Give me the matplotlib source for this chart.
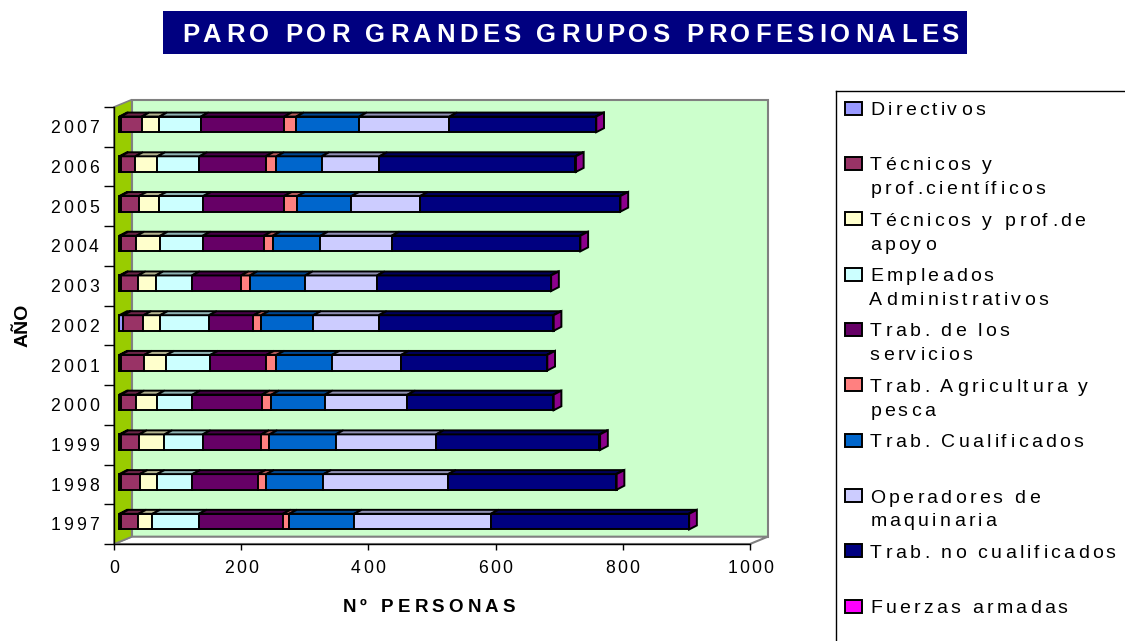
import numpy as np
import matplotlib
matplotlib.use('Agg')
import matplotlib.pyplot as plt
from matplotlib.patches import Rectangle, Polygon
from matplotlib.font_manager import FontProperties, findfont
from matplotlib.ft2font import FT2Font
from matplotlib.colors import to_rgb

# ---------------- data ----------------
years = ['1997', '1998', '1999', '2000', '2001', '2002', '2003', '2004', '2005', '2006', '2007']
directivos        = [2, 2, 2, 2, 2, 6, 2, 2, 2, 2, 2]
tec_cientificos   = [28, 30, 29, 25, 37, 32, 27, 25, 29, 23, 33]
tec_apoyo         = [22, 27, 40, 32, 35, 26, 28, 37, 31, 35, 28]
empleados_admin   = [73, 56, 60, 56, 69, 77, 57, 67, 70, 66, 65]
trab_servicios    = [132, 103, 92, 109, 88, 70, 77, 96, 127, 104, 131]
trab_agricultura  = [10, 13, 13, 15, 16, 12, 14, 14, 21, 17, 19]
trab_cualificados = [102, 90, 104, 84, 87, 82, 87, 75, 85, 71, 99]
operadores        = [215, 196, 158, 130, 109, 103, 113, 112, 108, 91, 142]
no_cualificados   = [311, 264, 257, 229, 229, 274, 273, 296, 314, 308, 230]
fuerzas_armadas   = [1, 1, 1, 1, 1, 1, 1, 1, 1, 1, 1]

series_names = ['Directivos', 'Técnicos y\nprof.científicos', 'Técnicos y prof.de\napoyo',
                'Empleados\nAdministrativos', 'Trab. de los\nservicios', 'Trab. Agricultura y\npesca',
                'Trab. Cualificados', 'Operadores de\nmaquinaria', 'Trab. no cualificados',
                'Fuerzas armadas']
series_values = [directivos, tec_cientificos, tec_apoyo, empleados_admin, trab_servicios,
                 trab_agricultura, trab_cualificados, operadores, no_cualificados, fuerzas_armadas]
series_colors = ['#9999FF', '#993366', '#FFFFCC', '#CCFFFF', '#660066', '#FF8080',
                 '#0066CC', '#CCCCFF', '#000080', '#FF00FF']
x_ticks = [0, 200, 400, 600, 800, 1000]
title = 'PARO POR GRANDES GRUPOS PROFESIONALES'
xlabel = 'Nº PERSONAS'
ylabel = 'AÑO'

# ---------------- figure ----------------
W, H, DPI = 1125, 641, 100
fig = plt.figure(figsize=(W / DPI, H / DPI), dpi=DPI)
fig.patch.set_facecolor('white')

FONT = 'Liberation Sans'


def spaced(x, y, s, fp, extra, ha='left', color='black', zorder=5):
    """Draw letter-spaced text; x, y in display pixels (y from bottom, baseline)."""
    font = FT2Font(findfont(fp))
    font.set_size(fp.get_size_in_points(), DPI)
    glyphs = [font.load_char(ord(c)) for c in s]
    adv = [g.linearHoriAdvance / 65536 for g in glyphs]
    bx = [g.horiBearingX / 64 for g in glyphs]
    total = sum(adv) + extra * (len(s) - 1)
    if ha == 'right':
        x0 = x - total
    elif ha == 'center':
        x0 = x - total / 2
    else:
        x0 = x
    cx = x0
    for c, a, b in zip(s, adv, bx):
        if c != ' ':
            fig.text((cx + b) / W, y / H, c, fontproperties=fp, color=color,
                     ha='left', va='baseline', zorder=zorder)
        cx += a + extra


# axes = front plane of the 3-D box
ax_l, ax_r, ax_t, ax_b = 114, 750, 107, 544
ax = fig.add_axes([ax_l / W, 1 - ax_b / H, (ax_r - ax_l) / W, (ax_b - ax_t) / H])
n = len(years)
ax.set_xlim(0, 1000)
ax.set_ylim(-0.5, n - 0.5)
ax.patch.set_visible(False)
ax.spines['top'].set_visible(False)
ax.spines['right'].set_visible(False)
for s in ['left', 'bottom']:
    ax.spines[s].set_color('black')
    ax.spines[s].set_linewidth(1.0)
    ax.spines[s].set_zorder(4)

ux = (ax_r - ax_l) / 1000.0          # px per data unit (x)
uy = (ax_b - ax_t) / n               # px per category (y)

# wall depth
wdx, wdy = 17.7 / ux, 7.3 / uy
# bar front offset and bar depth
fdx, fdy = 5.3 / ux, 2.5 / uy
bdx, bdy = 7.7 / ux, 4.0 / uy
bar_h = 15.6 / uy

grey = '#808080'
# back wall
ax.add_patch(Rectangle((wdx, -0.5 + wdy), 1000, n, facecolor='#CCFFCC', edgecolor=grey,
                       linewidth=1.5, clip_on=False, zorder=0))
# floor
ax.add_patch(Polygon([(0, -0.5), (1000, -0.5), (1000 + wdx, -0.5 + wdy), (wdx, -0.5 + wdy)],
                     closed=True, facecolor='white', edgecolor=grey, linewidth=1.5,
                     clip_on=False, zorder=0.5))
# side wall
ax.add_patch(Polygon([(0, -0.5), (0, n - 0.5), (wdx, n - 0.5 + wdy), (wdx, -0.5 + wdy)],
                     closed=True, facecolor='#99CC00', edgecolor=grey, linewidth=1.2,
                     clip_on=False, zorder=1))


def shade(c, f):
    return tuple(np.array(to_rgb(c)) * f)


lw = 1.4
ypos = np.arange(n) + fdy
left = np.zeros(n)
for vals, col in zip(series_values, series_colors):
    vals = np.array(vals, dtype=float)
    ax.barh(ypos, vals, left=left + fdx, height=bar_h, color=col, edgecolor='black',
            linewidth=lw, zorder=3, clip_on=False)
    for i in range(n):
        l = left[i] + fdx
        r = l + vals[i]
        top = ypos[i] + bar_h / 2
        ax.add_patch(Polygon([(l, top), (r, top), (r + bdx, top + bdy), (l + bdx, top + bdy)],
                             closed=True, facecolor=shade(col, 0.7), edgecolor='black',
                             linewidth=lw, joinstyle='miter', zorder=3.1, clip_on=False))
    left = left + vals

# side face of the stack's last segment
last_col = series_colors[-1]
for i in range(n):
    r = left[i] + fdx
    top = ypos[i] + bar_h / 2
    bot = ypos[i] - bar_h / 2
    ax.add_patch(Polygon([(r, bot), (r, top), (r + bdx, top + bdy), (r + bdx, bot + bdy)],
                         closed=True, facecolor=shade(last_col, 0.55), edgecolor='black',
                         linewidth=lw, joinstyle='miter', zorder=3.2, clip_on=False))

# ticks
ax.set_xticks(x_ticks)
ax.set_yticks(np.arange(n + 1) - 0.5)
ax.tick_params(axis='x', direction='out', length=4.3, width=1, color='black', labelbottom=False)
ax.tick_params(axis='y', direction='out', length=7.2, width=1, color='black', labelleft=False)

tick_fp = FontProperties(family=FONT, size=12.7)
for i, yr in enumerate(years):
    _, yd = ax.transData.transform((0, i))
    spaced(98.3, yd - 6.3, yr, tick_fp, 3.2, ha='right')
for v in x_ticks:
    xd, _ = ax.transData.transform((v, -0.5))
    spaced(xd - 1, H - 573, str(v), tick_fp, 2.2, ha='center')

# axis titles
lab_fp = FontProperties(family=FONT, size=13.5, weight='bold')
spaced(428, H - 612, xlabel, lab_fp, 4.3, ha='center')
fig.text(23 / W, 1 - 325 / H, ylabel, fontproperties=FontProperties(family=FONT, size=14, weight='bold'),
         rotation=90, ha='center', va='center')

# title
fig.patches.append(Rectangle((163 / W, 1 - 54 / H), (967 - 163) / W, (54 - 11) / H,
                             transform=fig.transFigure, facecolor='#000080', edgecolor='none'))
title_fp = FontProperties(family=FONT, size=18.5, weight='bold')
font = FT2Font(findfont(title_fp))
font.set_size(18.5, DPI)
nat = sum(font.load_char(ord(c)).linearHoriAdvance / 65536 for c in title)
extra_t = (959 - 181 - nat) / (len(title) - 1)
spaced(180, H - 42, title, title_fp, extra_t, color='white', zorder=6)

# legend (drawn by hand)
fig.add_artist(plt.Line2D([836 / W, 836 / W], [0, 1 - 91 / H], transform=fig.transFigure,
                          color='black', linewidth=1.0))
fig.add_artist(plt.Line2D([836 / W, 1.0], [1 - 91 / H, 1 - 91 / H], transform=fig.transFigure,
                          color='black', linewidth=1.0))
leg_fp = FontProperties(family=FONT, size=14)
for k, (name, col) in enumerate(zip(series_names, series_colors)):
    base = 115 + k * 55.37
    fig.patches.append(Rectangle((845 / W, 1 - (base - 0.5) / H), 17 / W, 13 / H,
                                 transform=fig.transFigure, facecolor=col, edgecolor='black',
                                 linewidth=1.4))
    for j, line in enumerate(name.split('\n')):
        spaced(869, H - (base + j * 23.8), line, leg_fp, 3.3)

fig.savefig('out.png', dpi=DPI)
